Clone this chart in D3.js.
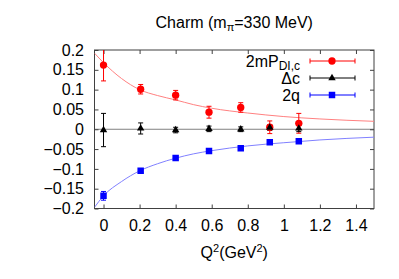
<!DOCTYPE html>
<html>
<head>
<meta charset="utf-8">
<script src="https://cdn.jsdelivr.net/npm/d3@7"></script>
<style>
	body { margin: 0; background: #fff; }
	svg text { font-family: "Liberation Sans", Arial, sans-serif; fill: #000; }
	.axis path { display: none; }
	.axis line { stroke: #404040; }
</style>
</head>
<body>
<div id="chart"></div>
<script>
	'use strict';

	// Q^2 values of the seven lattice points
	var q2 = [0, 0.206, 0.40, 0.585, 0.761, 0.922, 1.083];

	var pointsP = [0.162, 0.101, 0.086, 0.043, 0.055, 0.005, 0.015],
		errorsP = [0.040, 0.012, 0.012, 0.015, 0.012, 0.016, 0.025];

	var pointsC = [-0.002, 0.002, -0.002, 0.001, 0.000, 0.004, 0.002],
		errorsC = [0.042, 0.014, 0.007, 0.007, 0.006, 0.007, 0.008];

	var pointsQ = [-0.168, -0.105, -0.0726, -0.055, -0.048, -0.033, -0.030],
		errorsQ = [0.011, 0.004, 0.004, 0.004, 0.004, 0.004, 0.004];

	// fit curves
	var fitX = [-0.05, 0, 0.1, 0.2, 0.3, 0.4, 0.5, 0.6, 0.8, 1.0, 1.2, 1.5],
		fitP = [0.192, 0.168, 0.128, 0.100, 0.085, 0.074, 0.062, 0.053, 0.041, 0.032, 0.026, 0.020],
		fitQ = [-0.197, -0.168, -0.132, -0.105, -0.087, -0.073, -0.062, -0.054, -0.042, -0.034, -0.027, -0.020];

	var xTicks = [0, 0.2, 0.4, 0.6, 0.8, 1, 1.2, 1.4],
		yTicks = [-0.2, -0.15, -0.1, -0.05, 0, 0.05, 0.1, 0.15, 0.2];

	var margin = { top: 50, right: 25, bottom: 70.5, left: 94.5 },
		width = 399 - margin.left - margin.right,
		height = 279 - margin.top - margin.bottom;

	var xScale = d3.scaleLinear().domain([-0.05, 1.5]).range([0, width]),
		yScale = d3.scaleLinear().domain([-0.2, 0.2]).range([height, 0]);

	var svg = d3.select('#chart')
		.append('svg')
			.attr('width', 399)
			.attr('height', 279);

	var g = svg.append('g')
		.attr('transform', 'translate(' + margin.left + ',' + margin.top + ')');

	g.append('defs').append('clipPath')
		.attr('id', 'clip')
		.append('rect')
			.attr('width', width)
			.attr('height', height);

	// zero axis
	g.append('line')
		.attr('x1', 0).attr('x2', width)
		.attr('y1', yScale(0)).attr('y2', yScale(0))
		.attr('stroke', '#808080');

	// ticks on all four sides, pointing in
	function fmt(d) { return d3.format('')(+d.toFixed(2)); }

	g.append('g')
		.attr('class', 'axis')
		.attr('transform', 'translate(0,' + height + ')')
		.call(d3.axisBottom(xScale).tickValues(xTicks).tickSize(-4).tickPadding(11).tickFormat(fmt))
		.selectAll('text').attr('font-size', 16);

	g.append('g')
		.attr('class', 'axis')
		.call(d3.axisTop(xScale).tickValues(xTicks).tickSize(-4).tickFormat(''));

	g.append('g')
		.attr('class', 'axis')
		.call(d3.axisLeft(yScale).tickValues(yTicks).tickSize(-4).tickPadding(10.5).tickFormat(fmt))
		.selectAll('text').attr('font-size', 16);

	g.append('g')
		.attr('class', 'axis')
		.attr('transform', 'translate(' + width + ',0)')
		.call(d3.axisRight(yScale).tickValues(yTicks).tickSize(-4).tickFormat(''));

	g.append('rect')
		.attr('width', width)
		.attr('height', height)
		.attr('fill', 'none')
		.attr('stroke', '#404040');

	var plot = g.append('g').attr('clip-path', 'url(#clip)');

	var line = d3.line()
		.x(function (d) { return xScale(d[0]); })
		.y(function (d) { return yScale(d[1]); })
		.curve(d3.curveMonotoneX);

	plot.append('path')
		.datum(d3.zip(fitX, fitP))
		.attr('d', line)
		.attr('fill', 'none')
		.attr('stroke', '#ff8080');

	plot.append('path')
		.datum(d3.zip(fitX, fitQ))
		.attr('d', line)
		.attr('fill', 'none')
		.attr('stroke', '#8080ff');

	function drawErrors(values, errors, color) {
		var data = d3.zip(q2, values, errors);
		var eg = plot.append('g').attr('stroke', color).attr('fill', 'none');
		data.forEach(function (d) {
			var x = xScale(d[0]);
			eg.append('line')
				.attr('x1', x).attr('x2', x)
				.attr('y1', yScale(d[1] - d[2])).attr('y2', yScale(d[1] + d[2]));
			[d[1] - d[2], d[1] + d[2]].forEach(function (v) {
				eg.append('line')
					.attr('x1', x - 2.5).attr('x2', x + 2.5)
					.attr('y1', yScale(v)).attr('y2', yScale(v));
			});
		});
	}

	drawErrors(pointsP, errorsP, '#ff0000');
	drawErrors(pointsC, errorsC, '#000000');
	drawErrors(pointsQ, errorsQ, '#0000ff');

	var circle = d3.symbol().type(d3.symbolCircle).size(42),
		triangle = d3.symbol().type(d3.symbolTriangle).size(24),
		square = d3.symbol().type(d3.symbolSquare).size(42);

	function drawMarks(values, sym, color) {
		plot.append('g')
			.selectAll('path')
			.data(d3.zip(q2, values))
			.enter()
			.append('path')
				.attr('transform', function (d) { return 'translate(' + xScale(d[0]) + ',' + yScale(d[1]) + ')'; })
				.attr('d', sym)
				.attr('fill', color);
	}

	drawMarks(pointsP, circle, '#ff0000');
	drawMarks(pointsC, triangle, '#000000');
	drawMarks(pointsQ, square, '#0000ff');

	// LEGEND
	var legend = [
		{ label: '2mP', sub: 'DI,c', color: '#ff0000', sym: circle },
		{ label: '\u0394c', sub: null, color: '#000000', sym: triangle },
		{ label: '2q', sub: null, color: '#0000ff', sym: square }
	];

	var lg = svg.append('g');
	legend.forEach(function (d, i) {
		var y = 61 + i * 17;
		var t = lg.append('text')
			.attr('x', 300)
			.attr('y', y + 6)
			.attr('text-anchor', 'end')
			.attr('font-size', 16);
		t.append('tspan').text(d.label);
		if (d.sub) {
			t.append('tspan').attr('font-size', 12).attr('dy', 3).text(d.sub);
		}
		lg.append('line')
			.attr('x1', 310).attr('x2', 355)
			.attr('y1', y).attr('y2', y)
			.attr('stroke', d.color);
		[310, 355].forEach(function (x) {
			lg.append('line')
				.attr('x1', x).attr('x2', x)
				.attr('y1', y - 2.5).attr('y2', y + 2.5)
				.attr('stroke', d.color);
		});
		lg.append('path')
			.attr('transform', 'translate(332,' + y + ')')
			.attr('d', d.sym)
			.attr('fill', d.color);
	});

	// TITLE
	var title = svg.append('text')
		.attr('x', margin.left + width / 2)
		.attr('y', 28)
		.attr('text-anchor', 'middle')
		.attr('font-size', 16);
	title.append('tspan').text('Charm (m');
	title.append('tspan').attr('font-size', 11).attr('dy', 3).text('\u03c0');
	title.append('tspan').attr('dy', -3).text('=330 MeV)');

	// X LABEL
	var xl = svg.append('text')
		.attr('x', margin.left + width / 2)
		.attr('y', 258)
		.attr('text-anchor', 'middle')
		.attr('font-size', 16);
	xl.append('tspan').text('Q');
	xl.append('tspan').attr('font-size', 11).attr('dy', -6).text('2');
	xl.append('tspan').attr('dy', 6).text('(GeV');
	xl.append('tspan').attr('font-size', 11).attr('dy', -6).text('2');
	xl.append('tspan').attr('dy', 6).text(')');
</script>
</body>
</html>
